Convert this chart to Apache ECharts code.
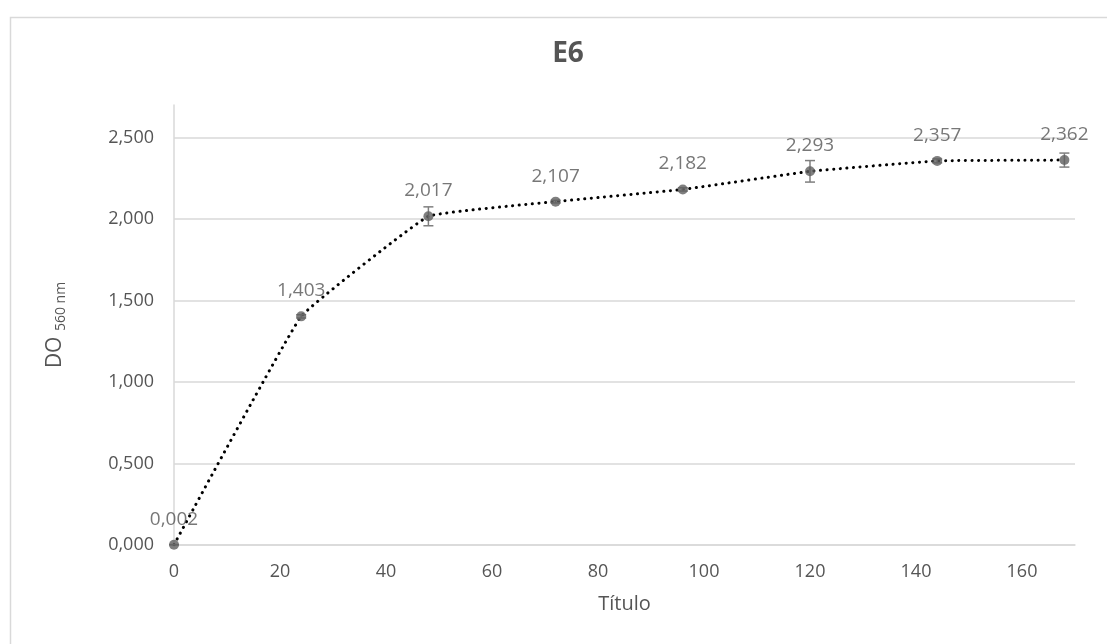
<!DOCTYPE html>
<html>
<head>
<meta charset="utf-8">
<script src="https://cdn.jsdelivr.net/npm/echarts@6/dist/echarts.min.js"></script>
<style>
html,body{margin:0;padding:0;background:#fff;}
#chart{width:1107px;height:644px;}
</style>
</head>
<body>
<div id="chart"></div>
<script>
const titleText = 'E6';
const xName = 'Título';
const timeHours = [0, 24, 48, 72, 96, 120, 144, 168];
const odValues = [0.002, 1.403, 2.017, 2.107, 2.182, 2.293, 2.357, 2.362];
const odErrors = [0.0, 0.010, 0.058, 0.008, 0.010, 0.066, 0.012, 0.043];
const xTicks = [0, 20, 40, 60, 80, 100, 120, 140, 160];
const yTicks = [0, 0.5, 1.0, 1.5, 2.0, 2.5];

const FONT = '"Open Sans", sans-serif';
const TXT = '#555555';
const fmt3 = v => v.toFixed(3).replace('.', ',');

const chart = echarts.init(document.getElementById('chart'), null, {renderer: 'canvas'});

const linePoints = timeHours.map((x, i) => [x, odValues[i]]);
const errPoints = timeHours.map((x, i) => [x, odValues[i] - odErrors[i], odValues[i] + odErrors[i]]);

chart.setOption({
  backgroundColor: '#fff',
  animation: false,
  textStyle: {fontFamily: FONT},
  graphic: [{
    type: 'rect', left: 8, top: 15, z: -10, silent: true,
    shape: {width: 1200, height: 700},
    style: {fill: 'none', stroke: '#d9d9d9', lineWidth: 1.5}
  }],
  title: {
    text: titleText,
    left: 563, top: 35, textAlign: 'center',
    textStyle: {fontFamily: FONT, fontSize: 28, fontWeight: 'bold', color: TXT}
  },
  grid: {left: 174, right: 32, top: 105, bottom: 99, containLabel: false},
  xAxis: {
    type: 'value', min: 0, max: 170, interval: 20,
    name: xName, nameLocation: 'middle', nameGap: 49,
    nameTextStyle: {fontFamily: FONT, fontSize: 20, color: TXT},
    axisLine: {show: true, lineStyle: {color: '#d9d9d9', width: 1.5}},
    axisTick: {show: false},
    splitLine: {show: false},
    axisLabel: {
      fontFamily: FONT, fontSize: 18, color: TXT, margin: 18,
      formatter: v => (xTicks.includes(v) ? String(v) : '')
    }
  },
  yAxis: {
    type: 'value', min: 0, max: 2.7, interval: 0.5,
    name: '{a|DO }{b|560 nm}', nameLocation: 'middle', nameGap: 108,
    nameTextStyle: {
      rich: {
        a: {fontFamily: FONT, fontSize: 21, color: TXT, verticalAlign: 'bottom'},
        b: {fontFamily: FONT, fontSize: 14, color: TXT, verticalAlign: 'bottom', padding: [0, 0, -2, 0]}
      }
    },
    axisLine: {show: true, lineStyle: {color: '#d9d9d9', width: 1.5}},
    axisTick: {show: false},
    splitLine: {show: true, lineStyle: {color: ['#d9d9d9', '#d9d9d9', '#d9d9d9', '#d9d9d9', '#d9d9d9', '#d9d9d9', 'rgba(0,0,0,0)'], width: 1.5}},
    axisLabel: {
      fontFamily: FONT, fontSize: 18, color: TXT, margin: 20,
      formatter: v => (yTicks.some(t => Math.abs(t - v) < 1e-9) ? fmt3(v) : '')
    }
  },
  series: [
    {
      type: 'line',
      data: linePoints,
      smooth: 0.08,
      z: 2,
      lineStyle: {color: '#000', width: 3, type: [0.1, 6.5], cap: 'round'},
      symbol: 'none',
      silent: true
    },
    {
      type: 'custom',
      data: errPoints,
      z: 3,
      renderItem: function (params, api) {
        const x = api.value(0);
        const lo = api.coord([x, api.value(1)]);
        const hi = api.coord([x, api.value(2)]);
        const hw = 5;
        const st = {stroke: '#7f7f7f', lineWidth: 1.5};
        return {
          type: 'group',
          children: [
            {type: 'line', shape: {x1: lo[0], y1: lo[1], x2: hi[0], y2: hi[1]}, style: st},
            {type: 'line', shape: {x1: lo[0] - hw, y1: lo[1], x2: lo[0] + hw, y2: lo[1]}, style: st},
            {type: 'line', shape: {x1: hi[0] - hw, y1: hi[1], x2: hi[0] + hw, y2: hi[1]}, style: st}
          ]
        };
      }
    },
    {
      type: 'scatter',
      data: linePoints,
      z: 4,
      symbol: 'circle',
      symbolSize: 10,
      itemStyle: {color: '#5f5f5f'},
      label: {
        show: true, position: 'top', distance: 11,
        fontFamily: FONT, fontSize: 19, color: TXT,
        formatter: p => fmt3(p.value[1])
      }
    }
  ]
});
</script>
</body>
</html>
